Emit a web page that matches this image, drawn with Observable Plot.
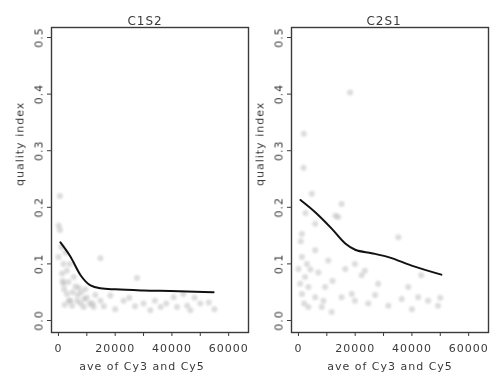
<!DOCTYPE html>
<html>
<head>
<meta charset="utf-8">
<script src="https://cdn.jsdelivr.net/npm/d3@7"></script>
<script src="https://cdn.jsdelivr.net/npm/@observablehq/plot@0.6"></script>
<style>
  html, body { margin: 0; padding: 0; background: #fff; }
  #wrap { position: relative; width: 490px; height: 379px; overflow: hidden; }
  #wrap > div, #wrap > svg { position: absolute; top: 0; }
  svg circle { filter: blur(1.1px); }
  svg text { filter: blur(0.3px); }
</style>
</head>
<body>
<div id="wrap"></div>
<script>
// ---- data ----
const panelTitles = ["C1S2", "C2S1"];
const xLabel = "ave of Cy3 and Cy5";
const yLabel = "quality index";
const xTicks = [0, 10000, 20000, 30000, 40000, 50000, 60000];
const yTicks = [0, 0.1, 0.2, 0.3, 0.4, 0.5];

const c1s2X = [500, 100, 500, 14800, 27700, 1800, 0, 1300, 3000, 5400, 1800, 3000, 4200, 3600, 6600, 7800, 8900, 12400, 14800, 18300, 23000, 30000, 36000, 40600, 45400, 53000, 32400, 41800, 46500, 50000, 44000,
  2500, 1000, 4000, 6000, 8000, 10000, 11000, 2000, 5000, 9500, 13000, 16000, 20000, 25000, 27000, 34000, 38000, 48000, 55000,
  1500, 3500, 6800, 9000, 12000, 2200, 4800, 7200];
const c1s2Y = [0.22, 0.168, 0.16, 0.11, 0.075, 0.1, 0.112, 0.083, 0.088, 0.077, 0.065, 0.047, 0.035, 0.035, 0.035, 0.03, 0.024, 0.024, 0.035, 0.044, 0.035, 0.03, 0.024, 0.041, 0.026, 0.032, 0.018, 0.024, 0.018, 0.03, 0.047,
  0.12, 0.13, 0.1, 0.06, 0.05, 0.04, 0.03, 0.055, 0.05, 0.055, 0.045, 0.025, 0.02, 0.04, 0.025, 0.035, 0.03, 0.04, 0.02,
  0.07, 0.068, 0.045, 0.038, 0.03, 0.028, 0.026, 0.058];

const c2s1X = [1900, 1800, 18200, 4700, 15200, 14000, 5900, 1200, 1200, 0, 2300, 5900, 10500, 3500, 1200, 5900, 9400, 15200, 19900, 24600, 28100, 3500, 8200, 11700, 19900, 23400, 35200, 22300, 38700, 42200, 45700, 49200, 36400, 31700, 16500, 18800, 43300, 13000,
  2500, 800, 7000, 12000, 3000, 27000, 40000, 50000, 600, 4200, 8800, 2000];
const c2s1Y = [0.33, 0.27, 0.403, 0.224, 0.206, 0.183, 0.171, 0.153, 0.112, 0.091, 0.077, 0.124, 0.106, 0.059, 0.047, 0.041, 0.059, 0.041, 0.035, 0.03, 0.065, 0.024, 0.024, 0.015, 0.1, 0.088, 0.147, 0.08, 0.059, 0.041, 0.035, 0.026, 0.038, 0.026, 0.091, 0.047, 0.08, 0.185,
  0.19, 0.14, 0.085, 0.07, 0.1, 0.045, 0.02, 0.04, 0.065, 0.09, 0.035, 0.03];

const c1s2LineX = [700, 4200, 7800, 11300, 14800, 20100, 30000, 39500, 54700];
const c1s2LineY = [0.138, 0.113, 0.080, 0.062, 0.057, 0.055, 0.053, 0.052, 0.050];
const c2s1LineX = [700, 6000, 11800, 16500, 20000, 25800, 31700, 39900, 50400];
const c2s1LineY = [0.213, 0.191, 0.162, 0.136, 0.125, 0.119, 0.112, 0.097, 0.081];

// ---- build panels ----
const toRows = (xs, ys) => xs.map((x, i) => ({x, y: ys[i]}));
const panels = [
  {title: panelTitles[0], pts: toRows(c1s2X, c1s2Y), line: toRows(c1s2LineX, c1s2LineY),
   left: 0, width: 250, marginLeft: 51, marginRight: 2, tdx: -5, ldx: -8},
  {title: panelTitles[1], pts: toRows(c2s1X, c2s1Y), line: toRows(c2s1LineX, c2s1LineY),
   left: 250, width: 240, marginLeft: 41, marginRight: 2, tdx: -6, ldx: 0}
];

const ink = "#3a3a3a";
const wrap = document.getElementById("wrap");
for (const p of panels) {
  const chart = Plot.plot({
    width: p.width,
    height: 379,
    marginTop: 27,
    marginBottom: 47,
    marginLeft: p.marginLeft,
    marginRight: p.marginRight,
    style: {fontFamily: "DejaVu Sans", fontSize: "11px", letterSpacing: "1px", color: ink, background: "transparent"},
    x: {domain: [-2450, 67000]},
    y: {domain: [-0.0212, 0.5177]},
    marks: [
      Plot.dot(p.pts, {x: "x", y: "y", r: 3, fill: "#a8a8a8", fillOpacity: 0.4}),
      Plot.line(p.line, {x: "x", y: "y", stroke: "#111", strokeWidth: 2, curve: "monotone-x"}),
      Plot.axisX({ticks: xTicks, tickFormat: d => d % 20000 === 0 ? String(d) : "", tickSize: 4, tickPadding: 8, stroke: ink, fill: ink, label: null}),
      Plot.axisY({ticks: yTicks, tickFormat: d3.format(".1f"), tickSize: 4, tickRotate: -90, tickPadding: 5, stroke: ink, fill: ink, label: null}),
      Plot.frame({stroke: ink, strokeWidth: 1.4}),
      Plot.text([p.title], {frameAnchor: "top", dy: -11, dx: p.tdx, fontSize: 12, fill: ink, letterSpacing: "2px"}),
      Plot.text([xLabel], {frameAnchor: "bottom", dy: 37, dx: p.ldx, fill: ink}),
      Plot.text([yLabel], {frameAnchor: "left", dx: -32, dy: 6, rotate: -90, fill: ink, letterSpacing: "1.6px"})
    ]
  });
  chart.style.left = p.left + "px";
  wrap.appendChild(chart);
}
</script>
</body>
</html>
